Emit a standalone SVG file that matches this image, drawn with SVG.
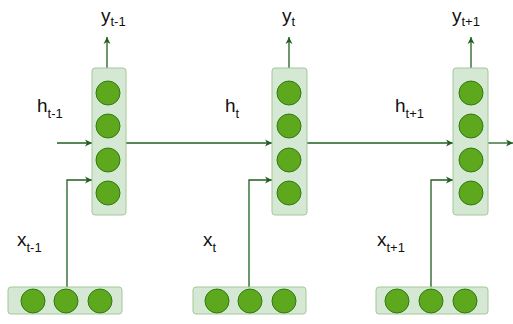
<svg xmlns="http://www.w3.org/2000/svg" width="513" height="324" viewBox="0 0 513 324">
<defs>
<marker id="arr" markerWidth="8" markerHeight="8" refX="7" refY="4" orient="auto" markerUnits="userSpaceOnUse">
<path d="M0,0.5 L7,4 L0,7.5 L2,4 Z" fill="#1f5f1f"/>
</marker>
<style>
.box{fill:#d5e8d4;stroke:#a5c79a;stroke-width:1}
.n{fill:#5ea81e;stroke:#2f7a12;stroke-width:1}
.c{fill:none;stroke:#1f5f1f;stroke-width:1.3}
text{font-family:"Liberation Sans",Arial,sans-serif;fill:#111}
.m{font-size:19px}
.s{font-size:13px}
</style>
</defs>
<rect width="513" height="324" fill="#fff"/>
<g id="connectors">
<path class="c" d="M107,68 V37" marker-end="url(#arr)"/>
<path class="c" d="M289,68 V37" marker-end="url(#arr)"/>
<path class="c" d="M471,68 V37" marker-end="url(#arr)"/>
<path class="c" d="M57,143 H92" marker-end="url(#arr)"/>
<path class="c" d="M126,143 H272" marker-end="url(#arr)"/>
<path class="c" d="M307,143 H453" marker-end="url(#arr)"/>
<path class="c" d="M488,143 H513" marker-end="url(#arr)"/>
<path class="c" d="M67,287 V180 H92" marker-end="url(#arr)"/>
<path class="c" d="M249,287 V180 H272" marker-end="url(#arr)"/>
<path class="c" d="M431,287 V180 H453" marker-end="url(#arr)"/>
</g>
<g id="hidden1">
<rect class="box" x="92" y="68" width="34" height="147" rx="3"/>
<circle class="n" cx="108" cy="93" r="12"/>
<circle class="n" cx="108" cy="126" r="12"/>
<circle class="n" cx="108" cy="160" r="12"/>
<circle class="n" cx="108" cy="193" r="12"/>
</g>
<g id="hidden2">
<rect class="box" x="272" y="68" width="35" height="147" rx="3"/>
<circle class="n" cx="289" cy="93" r="12"/>
<circle class="n" cx="289" cy="126" r="12"/>
<circle class="n" cx="289" cy="160" r="12"/>
<circle class="n" cx="289" cy="193" r="12"/>
</g>
<g id="hidden3">
<rect class="box" x="453" y="68" width="35" height="147" rx="3"/>
<circle class="n" cx="471" cy="93" r="12"/>
<circle class="n" cx="471" cy="126" r="12"/>
<circle class="n" cx="471" cy="160" r="12"/>
<circle class="n" cx="471" cy="193" r="12"/>
</g>
<g id="input1">
<rect class="box" x="8" y="287" width="114" height="27" rx="3"/>
<circle class="n" cx="33" cy="301" r="12"/>
<circle class="n" cx="66" cy="301" r="12"/>
<circle class="n" cx="100" cy="301" r="12"/>
</g>
<g id="input2">
<rect class="box" x="193" y="287" width="113" height="27" rx="3"/>
<circle class="n" cx="217" cy="301" r="12"/>
<circle class="n" cx="250" cy="301" r="12"/>
<circle class="n" cx="284" cy="301" r="12"/>
</g>
<g id="input3">
<rect class="box" x="376" y="287" width="112" height="27" rx="3"/>
<circle class="n" cx="397" cy="301" r="12"/>
<circle class="n" cx="431" cy="301" r="12"/>
<circle class="n" cx="465" cy="301" r="12"/>
</g>
<g id="labels">
<text x="101" y="22"><tspan class="m">y</tspan><tspan class="s" dy="4">t-1</tspan></text>
<text x="282" y="22"><tspan class="m">y</tspan><tspan class="s" dy="4">t</tspan></text>
<text x="452" y="22"><tspan class="m">y</tspan><tspan class="s" dy="4">t+1</tspan></text>
<text x="37" y="112"><tspan class="m">h</tspan><tspan class="s" dy="6">t-1</tspan></text>
<text x="225" y="112"><tspan class="m">h</tspan><tspan class="s" dy="6">t</tspan></text>
<text x="395" y="112"><tspan class="m">h</tspan><tspan class="s" dy="6">t+1</tspan></text>
<text x="17" y="246"><tspan class="m">x</tspan><tspan class="s" dy="6">t-1</tspan></text>
<text x="203" y="246"><tspan class="m">x</tspan><tspan class="s" dy="6">t</tspan></text>
<text x="377" y="246"><tspan class="m">x</tspan><tspan class="s" dy="6">t+1</tspan></text>
</g>
</svg>
